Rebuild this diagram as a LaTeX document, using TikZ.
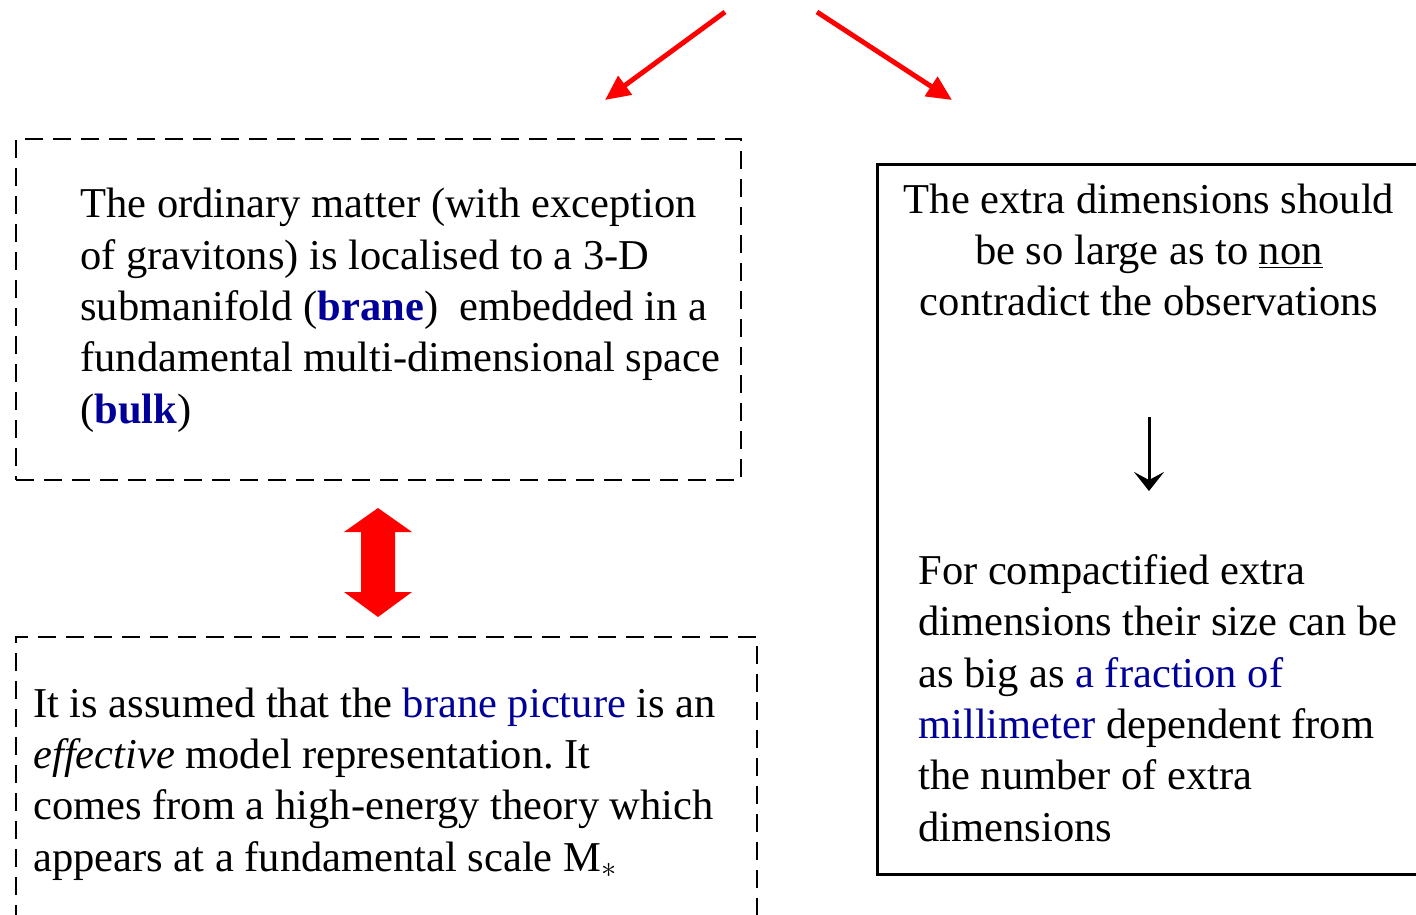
\documentclass[tikz,border=0pt]{standalone}
\usepackage{fontspec}
\setmainfont{Liberation Serif}
\usetikzlibrary{arrows.meta,positioning}
\definecolor{BraneBlue}{HTML}{000099}
\definecolor{ArrowRed}{HTML}{FF0000}
\frenchspacing

\begin{document}
\begin{tikzpicture}[x=0.02cm,y=-0.02cm,
  dashbox/.style={draw,line width=1.4pt,dash pattern=on 0.36cm off 0.2cm,anchor=north west,inner sep=0pt},
  plainbox/.style={draw,line width=1.5pt,anchor=north west,inner sep=0pt},
  body/.style={font=\fontsize{24.2}{29.2}\selectfont,inner sep=0pt},
  redarrow/.style={draw=ArrowRed,line width=2.8pt,-{Triangle[length=0.5cm,width=0.45cm]}}
]
\useasboundingbox (0,0) rectangle (1416,915);
\clip (0,0) rectangle (1416,915);

% boxes
\node[dashbox,minimum width=14.5cm,minimum height=6.82cm] (branebox) at (15,138) {};
\node[dashbox,minimum width=14.82cm,minimum height=7cm] (effbox) at (15,636) {};
\node[plainbox,minimum width=11.5cm,minimum height=14.2cm] (sizebox) at (876,163) {};

% texts (base = last line)
\node[body,align=left,anchor=base west] (brane) at (80,423) {The ordinary matter (with exception\\
of gravitons) is localised to a 3-D\\
submanifold (\textcolor{BraneBlue}{\textbf{brane}})~ embedded in a\\
fundamental multi-dimensional space\\
(\textcolor{BraneBlue}{\textbf{bulk}})};
\node[body,align=left,anchor=base west] (effective) at (33,871) {It is assumed that the \textcolor{BraneBlue}{brane picture} is an\\
\textit{effective} model representation. It\\
comes from a high-energy theory which\\
appears at a fundamental scale M$_*$};
\node[body,align=center,anchor=base] (bound) at (1149,316) {The extra dimensions should\\
be so large as to \underline{non}\\
contradict the observations};
\node[body,align=left,anchor=base west] (size) at (918,841) {For compactified extra\\
dimensions their size can be\\
as big as \textcolor{BraneBlue}{a fraction of}\\
\textcolor{BraneBlue}{millimeter} dependent from\\
the number of extra\\
dimensions};

% arrows
\coordinate (leftfrom) at (725,12);
\coordinate (lefttip) at (605,100);
\coordinate (rightfrom) at (817,12);
\coordinate (righttip) at (952,100);
\draw[redarrow] (leftfrom) -- (lefttip);
\draw[redarrow] (rightfrom) -- (righttip);

\fill[ArrowRed] (344,532) -- (378,508) -- (412,532) -- (395,532) -- (395,592)
  -- (412,592) -- (378,617) -- (344,592) -- (361,592) -- (361,532) -- cycle;

\coordinate (arrtop) at (1149,417);
\coordinate (arrbot) at (1149,491);
\draw[line width=1.7pt,-{Stealth[length=0.38cm,width=0.6cm,inset=0.16cm]}] (arrtop) -- (arrbot);
\end{tikzpicture}
\end{document}
